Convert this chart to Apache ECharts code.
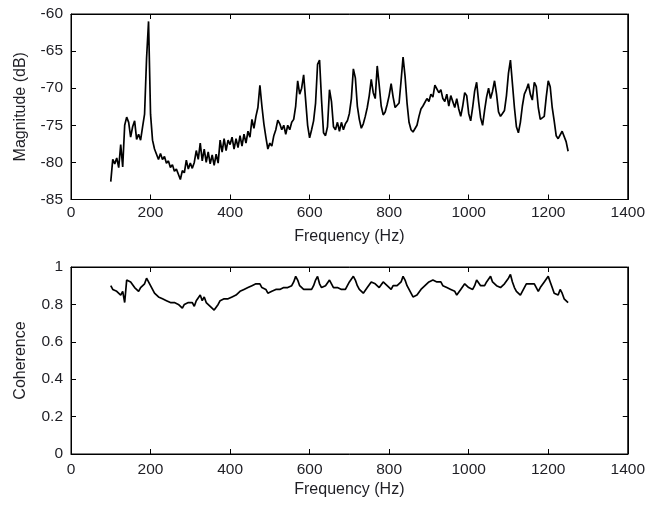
<!DOCTYPE html>
<html>
<head>
<meta charset="utf-8">
<script src="https://cdn.jsdelivr.net/npm/echarts@6/dist/echarts.min.js"></script>
<style>
  html, body { margin: 0; padding: 0; background: #fff; }
  #chart { width: 648px; height: 505px; }
</style>
</head>
<body>
<div id="chart"></div>
<script>
// Frequency sampling grid (Hz): 100 .. 1250, every 5 Hz
var freqStart = 100, freqStep = 5;

// Magnitude (dB), one value per 5 Hz from 100 Hz
var magnitude = [
  -82.6, -79.6, -80.2, -79.4, -80.7, -77.6, -80.6, -75.0, -73.9, -74.6,   // 100-145
  -76.6, -75.2, -74.4, -76.9, -76.2, -77.0, -75.2, -73.5, -66.0, -61.0,   // 150-195
  -73.5, -77.0, -78.2, -78.9, -79.6, -78.8, -79.6, -79.2, -80.1, -79.8,   // 200-245
  -80.7, -80.3, -81.2, -80.9, -81.6, -82.3, -81.1, -81.4, -79.7, -80.9,   // 250-295
  -80.1, -80.8, -80.0, -78.4, -79.6, -77.4, -79.8, -78.2, -80.0, -78.6,   // 300-345
  -80.2, -79.0, -80.4, -78.9, -80.1, -77.0, -78.6, -76.8, -78.4, -77.0,   // 350-395
  -77.6, -76.6, -78.2, -76.8, -78.0, -76.4, -77.8, -76.2, -77.4, -75.8,   // 400-445
  -76.6, -74.2, -75.4, -73.8, -72.6, -69.6, -72.4, -74.8, -76.6, -78.2,   // 450-495
  -77.4, -77.8, -76.4, -75.6, -74.3, -74.8, -75.6, -75.0, -76.2, -75.0,   // 500-545
  -75.6, -74.6, -74.2, -72.4, -69.0, -70.8, -70.0, -68.2, -71.6, -75.0,   // 550-595
  -76.7, -75.6, -74.4, -72.0, -66.8, -66.2, -71.6, -76.0, -76.4, -75.2,   // 600-645
  -70.2, -71.8, -75.2, -75.6, -74.6, -75.8, -74.6, -75.6, -74.8, -74.4,   // 650-695
  -73.4, -71.4, -67.4, -68.6, -72.4, -74.2, -75.4, -74.8, -73.8, -72.6,   // 700-745
  -71.0, -68.8, -70.6, -71.4, -67.0, -69.6, -72.4, -73.6, -73.2, -72.2,   // 750-795
  -71.0, -69.4, -71.2, -72.6, -72.8, -72.0, -69.0, -65.8, -68.4, -72.0,   // 800-845
  -74.6, -75.6, -75.9, -75.8, -75.0, -73.8, -72.8, -72.4, -72.2, -71.4,   // 850-895
  -71.8, -70.8, -71.2, -69.6, -69.4, -70.6, -70.2, -71.4, -71.8, -70.8,   // 900-945
  -72.4, -71.0, -70.8, -72.6, -71.4, -72.8, -73.8, -72.4, -70.6, -71.0,   // 950-995
  -73.4, -74.4, -72.6, -70.4, -69.2, -71.8, -74.0, -75.0, -73.0, -71.2,   // 1000-1045
  -70.0, -71.4, -70.4, -69.0, -70.8, -73.2, -73.8, -73.4, -73.0, -71.0,   // 1050-1095
  -68.0, -66.2, -69.4, -72.6, -75.2, -76.0, -74.6, -72.4, -70.8, -70.2,   // 1100-1145
  -69.4, -70.8, -71.6, -69.2, -69.8, -72.6, -74.2, -74.0, -73.8, -71.2,   // 1150-1195
  -69.0, -69.8, -72.6, -74.4, -76.4, -76.8, -76.6, -75.8, -75.6, -77.2,   // 1200-1245
  -78.5                                                                    // 1250
];

// Coherence, one value per 5 Hz from 100 Hz
var coherence = [
  0.90, 0.88, 0.89, 0.87, 0.88, 0.85, 0.87, 0.81, 0.93, 0.94,   // 100-145
  0.92, 0.91, 0.89, 0.88, 0.87, 0.89, 0.88, 0.91, 0.94, 0.95,   // 150-195
  0.90, 0.88, 0.86, 0.85, 0.84, 0.85, 0.83, 0.84, 0.82, 0.83,   // 200-245
  0.81, 0.82, 0.81, 0.82, 0.80, 0.81, 0.78, 0.80, 0.79, 0.81,   // 250-295
  0.80, 0.81, 0.79, 0.82, 0.81, 0.85, 0.82, 0.84, 0.81, 0.82,   // 300-345
  0.79, 0.80, 0.77, 0.78, 0.80, 0.82, 0.81, 0.83, 0.82, 0.83,   // 350-395
  0.82, 0.84, 0.83, 0.85, 0.86, 0.87, 0.86, 0.88, 0.87, 0.89,   // 400-445
  0.88, 0.90, 0.89, 0.91, 0.90, 0.91, 0.89, 0.90, 0.88, 0.86,   // 450-495
  0.85, 0.87, 0.86, 0.88, 0.87, 0.88, 0.87, 0.89, 0.88, 0.89,   // 500-545
  0.88, 0.90, 0.92, 0.95, 0.93, 0.90, 0.89, 0.88, 0.89, 0.88,   // 550-595
  0.89, 0.88, 0.90, 0.93, 0.95, 0.91, 0.89, 0.88, 0.90, 0.91,   // 600-645
  0.93, 0.91, 0.89, 0.90, 0.89, 0.90, 0.88, 0.89, 0.88, 0.90,   // 650-695
  0.92, 0.93, 0.95, 0.93, 0.90, 0.88, 0.87, 0.86, 0.87, 0.89,   // 700-745
  0.90, 0.92, 0.93, 0.91, 0.90, 0.89, 0.90, 0.92, 0.91, 0.90,   // 750-795
  0.89, 0.88, 0.90, 0.89, 0.90, 0.89, 0.92, 0.95, 0.93, 0.90,   // 800-845
  0.88, 0.86, 0.84, 0.83, 0.85, 0.86, 0.88, 0.89, 0.90, 0.91,   // 850-895
  0.92, 0.91, 0.93, 0.94, 0.92, 0.91, 0.92, 0.90, 0.91, 0.89,   // 900-945
  0.90, 0.88, 0.89, 0.87, 0.85, 0.86, 0.88, 0.89, 0.91, 0.90,   // 950-995
  0.89, 0.90, 0.88, 0.90, 0.93, 0.92, 0.90, 0.91, 0.90, 0.92,   // 1000-1045
  0.93, 0.95, 0.92, 0.91, 0.90, 0.91, 0.89, 0.90, 0.91, 0.92,   // 1050-1095
  0.94, 0.96, 0.92, 0.89, 0.87, 0.86, 0.85, 0.87, 0.89, 0.91,   // 1100-1145
  0.90, 0.91, 0.92, 0.91, 0.89, 0.87, 0.89, 0.90, 0.92, 0.93,   // 1150-1195
  0.95, 0.92, 0.89, 0.86, 0.87, 0.85, 0.88, 0.86, 0.83, 0.84,   // 1200-1245
  0.81                                                          // 1250
];

// Axis ticks
var freqTicks = { min: 0, max: 1400, interval: 200 };
var magTicks = { min: -85, max: -60, interval: 5 };
var cohTicks = { min: 0, max: 1, interval: 0.2 };

var magData = magnitude.map(function (v, i) { return [freqStart + i * freqStep, v]; });
var cohData = coherence.map(function (v, i) { return [freqStart + i * freqStep, v]; });

var FONT = 'Liberation Sans, Arial, Helvetica, sans-serif';
var TXT = '#1e1e24';
var TICK_FS = 15.5, NAME_FS = 16;

function xAx(grid, main, margin, gap) {
  return {
    gridIndex: grid, type: 'value', position: main ? 'bottom' : 'top',
    min: freqTicks.min, max: freqTicks.max, interval: freqTicks.interval,
    axisLine: { show: true, onZero: false, lineStyle: { color: '#000', width: 1 } },
    axisTick: { show: true, inside: true, length: 5, lineStyle: { color: '#000' } },
    axisLabel: { show: main, color: TXT, fontSize: TICK_FS, fontFamily: FONT, margin: margin,
                 formatter: function (v) { return String(v); } },
    splitLine: { show: false },
    name: main ? 'Frequency (Hz)' : '', nameLocation: 'middle', nameGap: gap,
    nameTextStyle: { color: TXT, fontSize: NAME_FS, fontFamily: FONT }
  };
}
function yAx(grid, main, t, name, fmt) {
  return {
    gridIndex: grid, type: 'value', position: main ? 'left' : 'right',
    min: t.min, max: t.max, interval: t.interval,
    axisLine: { show: true, onZero: false, lineStyle: { color: '#000', width: 1 } },
    axisTick: { show: true, inside: true, length: 5, lineStyle: { color: '#000' } },
    axisLabel: { show: main, color: TXT, fontSize: TICK_FS, fontFamily: FONT, margin: 8, formatter: fmt },
    splitLine: { show: false },
    name: main ? name : '', nameLocation: 'middle', nameGap: 42,
    nameTextStyle: { color: TXT, fontSize: NAME_FS, fontFamily: FONT }
  };
}

var chart = echarts.init(document.getElementById('chart'), null, { renderer: 'canvas' });
chart.setOption({
  backgroundColor: '#fff',
  animation: false,
  grid: [
    { left: 71, top: 14, width: 558, height: 185.5, show: true, borderColor: '#000', borderWidth: 1, backgroundColor: 'transparent' },
    { left: 71, top: 267, width: 558, height: 187, show: true, borderColor: '#000', borderWidth: 1, backgroundColor: 'transparent' }
  ],
  xAxis: [ xAx(0, true, 5, 29), xAx(0, false, 5, 0), xAx(1, true, 8, 28), xAx(1, false, 8, 0) ],
  yAxis: [
    yAx(0, true, magTicks, 'Magnitude (dB)', function (v) { return String(Math.round(v)); }),
    yAx(0, false, magTicks, '', null),
    yAx(1, true, cohTicks, 'Coherence', function (v) { return String(+v.toFixed(1)); }),
    yAx(1, false, cohTicks, '', null)
  ],
  series: [
    { type: 'line', xAxisIndex: 0, yAxisIndex: 0, data: magData, showSymbol: false, symbol: 'none',
      lineStyle: { color: '#000', width: 1.7 }, silent: true },
    { type: 'line', xAxisIndex: 2, yAxisIndex: 2, data: cohData, showSymbol: false, symbol: 'none',
      lineStyle: { color: '#000', width: 1.7 }, silent: true }
  ]
});
</script>
</body>
</html>
